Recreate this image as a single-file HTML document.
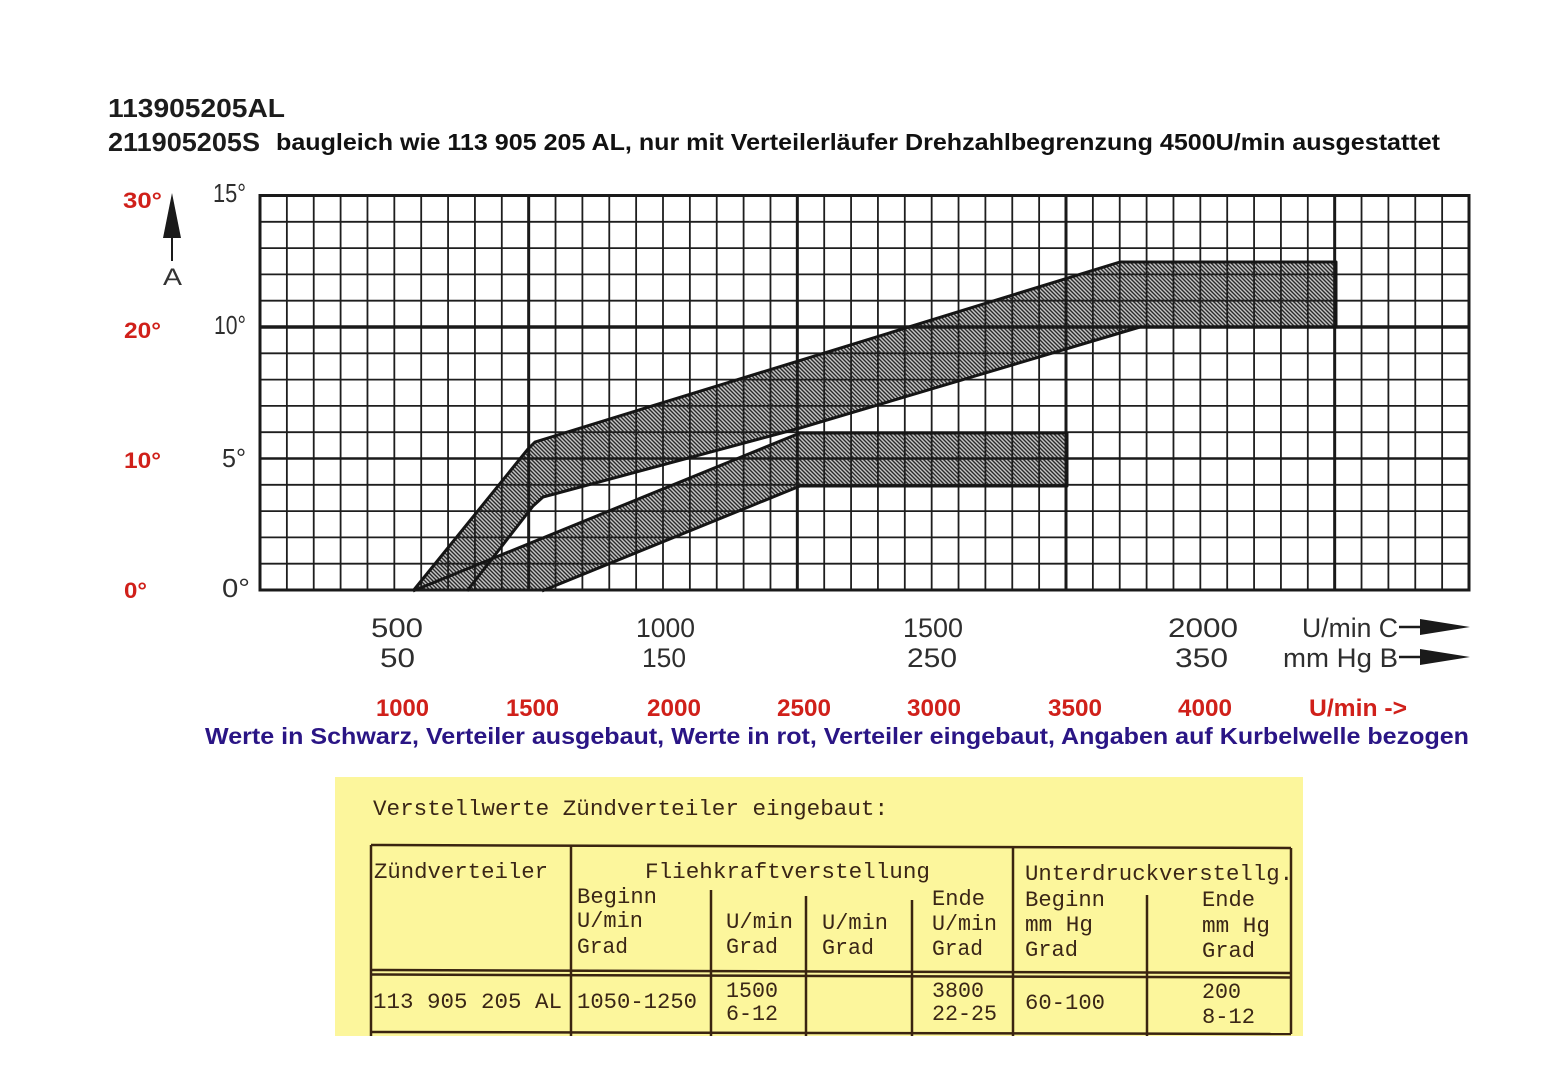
<!DOCTYPE html>
<html>
<head>
<meta charset="utf-8">
<style>
html,body{margin:0;padding:0;background:#fff;}
svg{display:block;}
</style>
</head>
<body>
<svg width="1558" height="1066" viewBox="0 0 1558 1066" xmlns="http://www.w3.org/2000/svg">
<defs>
<pattern id="hatch" patternUnits="userSpaceOnUse" width="4" height="4">
<rect width="4" height="4" fill="#c4c4c4"/>
<path d="M-1,-1 L5,5 M-1,3 L1,5 M3,-1 L5,1" stroke="#2a2a2a" stroke-width="1.4"/>
</pattern>
</defs>
<rect width="1558" height="1066" fill="#ffffff"/>

<!-- Header -->
<g font-family="'Liberation Sans', Arial, sans-serif" font-weight="bold" fill="#1c1c1c">
<text x="108" y="117" font-size="26" textLength="177" lengthAdjust="spacingAndGlyphs">113905205AL</text>
<text x="108" y="151" font-size="26" textLength="152" lengthAdjust="spacingAndGlyphs">211905205S</text>
<text x="276" y="150" font-size="23" textLength="1164" lengthAdjust="spacingAndGlyphs" fill="#111">baugleich wie 113 905 205 AL, nur mit Verteilerläufer Drehzahlbegrenzung 4500U/min ausgestattet</text>
</g>

<!-- Band fills -->
<polygon points="413,591 528,449 535,442 1120,262 1336,262 1336,327 1140,327 800,428 543,497 533,506 467,591" fill="url(#hatch)"/>
<polygon points="413,591 800,433 1067,433 1067,486 800,486 542,591" fill="url(#hatch)"/>

<!-- Grid -->
<path fill="none" stroke="#1e1e1e" stroke-width="1.8" d="
M286.87 195.5V590 M313.73 195.5V590 M340.6 195.5V590 M367.47 195.5V590 M394.33 195.5V590
M421.2 195.5V590 M448.07 195.5V590 M474.93 195.5V590 M501.8 195.5V590
M555.53 195.5V590 M582.4 195.5V590 M609.27 195.5V590 M636.13 195.5V590 M663 195.5V590
M689.87 195.5V590 M716.73 195.5V590 M743.6 195.5V590 M770.47 195.5V590
M824.2 195.5V590 M851.07 195.5V590 M877.93 195.5V590 M904.8 195.5V590 M931.67 195.5V590
M958.53 195.5V590 M985.4 195.5V590 M1012.27 195.5V590 M1039.13 195.5V590
M1092.87 195.5V590 M1119.73 195.5V590 M1146.6 195.5V590 M1173.47 195.5V590 M1200.33 195.5V590
M1227.2 195.5V590 M1254.07 195.5V590 M1280.93 195.5V590 M1307.8 195.5V590
M1361.53 195.5V590 M1388.4 195.5V590 M1415.27 195.5V590 M1442.13 195.5V590
M260 221.8H1469 M260 248.1H1469 M260 274.4H1469 M260 300.7H1469
M260 353.3H1469 M260 379.6H1469 M260 405.9H1469 M260 432.2H1469
M260 484.8H1469 M260 511.1H1469 M260 537.4H1469 M260 563.7H1469"/>
<path fill="none" stroke="#1a1a1a" stroke-width="3" d="M528.67 195.5V590 M797.33 195.5V590 M1066 195.5V590 M1334.67 195.5V590"/>
<path fill="none" stroke="#1a1a1a" stroke-width="3.5" d="M260 327H1469"/>
<path fill="none" stroke="#1a1a1a" stroke-width="2.6" d="M260 458.5H1469"/>
<rect x="260" y="195.5" width="1209" height="394.5" fill="none" stroke="#1a1a1a" stroke-width="3"/>

<!-- Band outlines -->
<g fill="none" stroke="#151515" stroke-width="3" stroke-linejoin="round">
<polyline points="413,591 528,449 535,442 1120,262 1336,262 1336,327 1140,327 800,428 543,497 533,506 467,591"/>
<polyline points="413,591 800,433 1067,433 1067,486 800,486 542,591"/>
</g>

<!-- Left red labels -->
<g font-family="'Liberation Sans', Arial, sans-serif" font-weight="bold" fill="#d0201a" font-size="22">
<text x="123" y="208" textLength="39" lengthAdjust="spacingAndGlyphs">30°</text>
<text x="124" y="338" textLength="37" lengthAdjust="spacingAndGlyphs">20°</text>
<text x="124" y="468" textLength="37" lengthAdjust="spacingAndGlyphs">10°</text>
<text x="124" y="598" textLength="23" lengthAdjust="spacingAndGlyphs">0°</text>
</g>

<!-- Arrow A -->
<polygon points="172,193 163,238 181,238" fill="#1a1a1a"/>
<line x1="172" y1="236" x2="172" y2="261" stroke="#1a1a1a" stroke-width="2"/>
<text x="163" y="285" font-family="'Liberation Sans', Arial, sans-serif" font-size="24" fill="#333" textLength="19" lengthAdjust="spacingAndGlyphs">A</text>

<!-- Black y-axis labels -->
<g font-family="'Liberation Sans', Arial, sans-serif" fill="#2e2e2e" font-size="26">
<text x="213" y="202" textLength="33" lengthAdjust="spacingAndGlyphs">15°</text>
<text x="214" y="334" textLength="32" lengthAdjust="spacingAndGlyphs">10°</text>
<text x="222" y="467" textLength="24" lengthAdjust="spacingAndGlyphs">5°</text>
<text x="222" y="597" textLength="28" lengthAdjust="spacingAndGlyphs">0°</text>
</g>

<!-- X-axis labels -->
<g font-family="'Liberation Sans', Arial, sans-serif" fill="#2e2e2e" font-size="27">
<text x="371" y="637" textLength="52" lengthAdjust="spacingAndGlyphs">500</text>
<text x="380" y="667" textLength="35" lengthAdjust="spacingAndGlyphs">50</text>
<text x="636" y="637" textLength="59" lengthAdjust="spacingAndGlyphs">1000</text>
<text x="642" y="667" textLength="44" lengthAdjust="spacingAndGlyphs">150</text>
<text x="903" y="637" textLength="60" lengthAdjust="spacingAndGlyphs">1500</text>
<text x="907" y="667" textLength="50" lengthAdjust="spacingAndGlyphs">250</text>
<text x="1168" y="637" textLength="70" lengthAdjust="spacingAndGlyphs">2000</text>
<text x="1175" y="667" textLength="53" lengthAdjust="spacingAndGlyphs">350</text>
<text x="1302" y="637" textLength="96" lengthAdjust="spacingAndGlyphs">U/min C</text>
<text x="1283" y="667" textLength="115" lengthAdjust="spacingAndGlyphs">mm Hg B</text>
</g>
<line x1="1399" y1="627" x2="1422" y2="627" stroke="#1a1a1a" stroke-width="2.5"/>
<polygon points="1420,619 1470,627 1420,635" fill="#1a1a1a"/>
<line x1="1399" y1="657" x2="1422" y2="657" stroke="#1a1a1a" stroke-width="2.5"/>
<polygon points="1420,649 1470,657 1420,665" fill="#1a1a1a"/>

<!-- Red x labels -->
<g font-family="'Liberation Sans', Arial, sans-serif" font-weight="bold" fill="#d0201a" font-size="24">
<text x="376" y="716" textLength="53" lengthAdjust="spacingAndGlyphs">1000</text>
<text x="506" y="716" textLength="53" lengthAdjust="spacingAndGlyphs">1500</text>
<text x="647" y="716" textLength="54" lengthAdjust="spacingAndGlyphs">2000</text>
<text x="777" y="716" textLength="54" lengthAdjust="spacingAndGlyphs">2500</text>
<text x="907" y="716" textLength="54" lengthAdjust="spacingAndGlyphs">3000</text>
<text x="1048" y="716" textLength="54" lengthAdjust="spacingAndGlyphs">3500</text>
<text x="1178" y="716" textLength="54" lengthAdjust="spacingAndGlyphs">4000</text>
<text x="1309" y="716" textLength="98" lengthAdjust="spacingAndGlyphs">U/min -&gt;</text>
</g>

<!-- Blue line -->
<text x="205" y="744" font-family="'Liberation Sans', Arial, sans-serif" font-weight="bold" font-size="23" fill="#2a1585" textLength="1264" lengthAdjust="spacingAndGlyphs">Werte in Schwarz, Verteiler ausgebaut, Werte in rot, Verteiler eingebaut, Angaben auf Kurbelwelle bezogen</text>

<!-- Table -->
<rect x="335" y="777" width="968" height="259" fill="#fcf69c"/>
<g stroke="#3a2410" stroke-width="2.5" fill="none">
<line x1="371" y1="845" x2="1291" y2="848"/>
<line x1="371" y1="845" x2="371" y2="1036"/>
<line x1="571" y1="846" x2="571" y2="1036"/>
<line x1="711" y1="890" x2="711" y2="1036"/>
<line x1="806" y1="896" x2="806" y2="1036"/>
<line x1="912" y1="900" x2="912" y2="1036"/>
<line x1="1013" y1="847" x2="1013" y2="1036"/>
<line x1="1147" y1="895" x2="1147" y2="1036"/>
<line x1="1291" y1="848" x2="1291" y2="1034"/>
<line x1="371" y1="970" x2="1291" y2="973"/>
<line x1="371" y1="974.5" x2="1291" y2="977.5"/>
<line x1="371" y1="1032" x2="1291" y2="1034"/>
</g>
<g font-family="'Liberation Mono', 'Courier New', monospace" fill="#3a2616" font-size="22">
<text x="373" y="815" textLength="515" lengthAdjust="spacingAndGlyphs">Verstellwerte Zündverteiler eingebaut:</text>
<text x="374" y="878" textLength="174" lengthAdjust="spacingAndGlyphs">Zündverteiler</text>
<text x="645" y="878" textLength="285" lengthAdjust="spacingAndGlyphs">Fliehkraftverstellung</text>
<text x="1025" y="880" textLength="268" lengthAdjust="spacingAndGlyphs">Unterdruckverstellg.</text>

<text x="577" y="903" textLength="80" lengthAdjust="spacingAndGlyphs">Beginn</text>
<text x="577" y="927" textLength="66" lengthAdjust="spacingAndGlyphs">U/min</text>
<text x="577" y="953" textLength="51" lengthAdjust="spacingAndGlyphs">Grad</text>

<text x="726" y="928" textLength="67" lengthAdjust="spacingAndGlyphs">U/min</text>
<text x="726" y="953" textLength="52" lengthAdjust="spacingAndGlyphs">Grad</text>

<text x="822" y="929" textLength="66" lengthAdjust="spacingAndGlyphs">U/min</text>
<text x="822" y="954" textLength="52" lengthAdjust="spacingAndGlyphs">Grad</text>

<text x="932" y="905" textLength="53" lengthAdjust="spacingAndGlyphs">Ende</text>
<text x="932" y="930" textLength="65" lengthAdjust="spacingAndGlyphs">U/min</text>
<text x="932" y="955" textLength="51" lengthAdjust="spacingAndGlyphs">Grad</text>

<text x="1025" y="906" textLength="80" lengthAdjust="spacingAndGlyphs">Beginn</text>
<text x="1025" y="931" textLength="68" lengthAdjust="spacingAndGlyphs">mm Hg</text>
<text x="1025" y="956" textLength="53" lengthAdjust="spacingAndGlyphs">Grad</text>

<text x="1202" y="906" textLength="53" lengthAdjust="spacingAndGlyphs">Ende</text>
<text x="1202" y="932" textLength="68" lengthAdjust="spacingAndGlyphs">mm Hg</text>
<text x="1202" y="957" textLength="53" lengthAdjust="spacingAndGlyphs">Grad</text>

<text x="373" y="1008" textLength="189" lengthAdjust="spacingAndGlyphs">113 905 205 AL</text>
<text x="577" y="1008" textLength="120" lengthAdjust="spacingAndGlyphs">1050-1250</text>
<text x="726" y="997" textLength="52" lengthAdjust="spacingAndGlyphs">1500</text>
<text x="726" y="1020" textLength="52" lengthAdjust="spacingAndGlyphs">6-12</text>
<text x="932" y="997" textLength="52" lengthAdjust="spacingAndGlyphs">3800</text>
<text x="932" y="1020" textLength="65" lengthAdjust="spacingAndGlyphs">22-25</text>
<text x="1025" y="1009" textLength="80" lengthAdjust="spacingAndGlyphs">60-100</text>
<text x="1202" y="998" textLength="39" lengthAdjust="spacingAndGlyphs">200</text>
<text x="1202" y="1023" textLength="53" lengthAdjust="spacingAndGlyphs">8-12</text>
</g>
</svg>
</body>
</html>
